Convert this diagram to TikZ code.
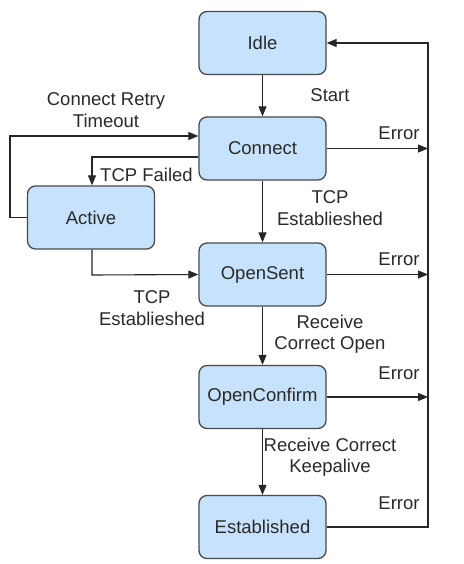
\documentclass[tikz,border=0pt]{standalone}
\usepackage{fontspec}
\setmainfont{Liberation Sans}
\usetikzlibrary{arrows.meta}
\definecolor{boxfill}{HTML}{C6E2FC}
\definecolor{boxdraw}{HTML}{4A4A4A}
\definecolor{txt}{HTML}{2A2A2A}
\begin{document}
\begin{tikzpicture}[x=1pt,y=-1pt,
  state/.style={draw=boxdraw, fill=boxfill, line width=1.3pt, rounded corners=8pt,
    minimum width=127pt, minimum height=63pt, inner sep=0pt, text=txt,
    font=\fontsize{18.5}{22}\selectfont},
  lbl/.style={text=txt, align=center, inner sep=0pt, font=\fontsize{18.5}{21.5}\selectfont},
  conn/.style={draw=black!85, line width=1.1pt, -{Triangle[length=10pt,width=8pt]}},
  plain/.style={draw=black!85, line width=1.1pt}]
\useasboundingbox (0,0) rectangle (463,564);
\fill[white] (0,0) rectangle (463,564);

\node[state] (idle) at (262.5,43) {Idle};
\node[state] (connect) at (262.5,148.5) {Connect};
\node[state] (active) at (91,217.5) {Active};
\node[state] (opensent) at (262.5,274.5) {OpenSent};
\node[state] (openconfirm) at (262.5,397) {OpenConfirm};
\node[state] (established) at (262.5,527) {Established};

% right error bus
\coordinate (busC) at (428,148.5);
\coordinate (busS) at (428,274.5);
\coordinate (busO) at (428,397);
\coordinate (busE) at (428,527);
\coordinate (busI) at (428,43);

% main vertical
\draw[conn] (idle) -- (connect);
\draw[conn] (connect) -- (opensent);
\draw[conn] (opensent) -- (openconfirm);
\draw[conn] (openconfirm) -- (established);

% errors
\draw[conn] (connect.east) -- (busC);
\draw[conn] (opensent.east) -- (busS);
\draw[conn] (openconfirm.east) -- (busO);
\draw[conn] (established.east) -- (busE) -- (busI) -- (idle.east);

% left side
\draw[conn] (active.west) -- (10,217.5) -- (10,136) -- (connect.west |- 0,136);
\draw[conn] (connect.west |- 0,157) -- (92,157) -- (active.north -| 92,0);
\draw[conn] (active.south -| 92,0) -- (92,275) -- (opensent.west);

% labels
\node[lbl] (lstart) at (330,95) {Start};
\node[lbl] (lretry) at (106,110) {Connect Retry\\Timeout};
\node[lbl] (lfail) at (146.5,175) {TCP Failed};
\node[lbl] (ltcp1) at (330,208) {TCP\\Establieshed};
\node[lbl] (ltcp2) at (152,308) {TCP\\Establieshed};
\node[lbl] (lopen) at (330,334) {Receive\\Correct Open};
\node[lbl] (lkeep) at (330,457) {Receive Correct\\Keepalive};
\node[lbl] (e1) at (399,133) {Error};
\node[lbl] (e2) at (399,259) {Error};
\node[lbl] (e3) at (399,373) {Error};
\node[lbl] (e4) at (399,503) {Error};
\end{tikzpicture}
\end{document}
